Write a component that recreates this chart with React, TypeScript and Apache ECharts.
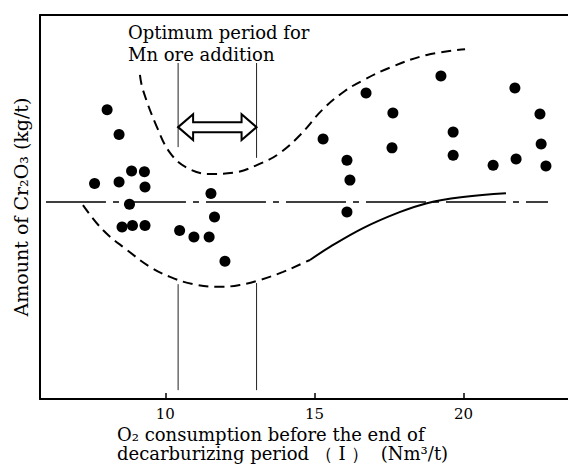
import React, { useEffect, useRef } from "react";
import * as echarts from "echarts";

// x tick labels
const xTicks = [10, 15, 20];

// scatter points [O2 consumption, Cr2O3 amount (relative)]
const points: [number, number][] = [
  [8.05, 75.3], [8.45, 68.9], [8.87, 59.4], [9.3, 59.2], [7.63, 56.1],
  [8.45, 56.5], [9.32, 55.2], [11.53, 53.5], [8.8, 50.7], [11.65, 47.4],
  [8.55, 44.8], [8.9, 45.2], [9.32, 45.2], [10.48, 43.9], [10.96, 42.2],
  [11.47, 42.2], [12.0, 35.9],
  [15.29, 67.7], [16.73, 79.7], [16.09, 62.2], [16.19, 57.0], [17.63, 74.5],
  [17.6, 65.4], [19.24, 84.1], [19.65, 69.5], [19.65, 63.5], [20.99, 60.9],
  [21.72, 81.0], [21.76, 62.5], [22.56, 74.2], [22.6, 66.4], [22.76, 60.7],
  [16.09, 48.7],
];

// upper dashed envelope
const upperCurve: [number, number][] = [
  [9.15, 84.4], [9.25, 80.5], [9.72, 70.8], [10.16, 64.1], [10.73, 60.2],
  [11.5, 58.6], [12.27, 58.9], [13.24, 61.5], [13.85, 64.1], [14.52, 68.75],
  [15.29, 75.5], [16.02, 80.2], [16.63, 83.0], [17.53, 86.3], [18.77, 89.6],
  [20.05, 91.1],
];

// lower envelope, dashed part
const lowerDashed: [number, number][] = [
  [7.24, 50.5], [7.91, 44.0], [8.72, 38.8], [9.49, 34.4], [10.16, 31.8],
  [10.93, 29.9], [11.83, 29.2], [12.5, 29.7], [13.18, 31.0], [13.95, 33.1],
  [14.62, 35.4], [14.85, 36.2],
];

// lower envelope, solid part
const lowerSolid: [number, number][] = [
  [14.85, 36.2], [15.52, 39.6], [16.63, 44.5], [17.77, 48.4], [18.77, 51.0],
  [19.98, 52.6], [21.42, 53.6],
];

// reference horizontal line
const refLine: [number, number][] = [[6.0, 51.3], [22.83, 51.3]];

// optimum period bounds
const periodStart = 10.43;
const periodEnd = 13.06;
const verticalSegments: [number, number, number][] = [
  [periodStart, 65.6, 87.5],
  [periodEnd, 62.8, 87.5],
  [periodStart, 2.3, 29.9],
  [periodEnd, 2.3, 30.2],
];
const arrowY = 70.8;

const FONT = '"DejaVu Serif", "Liberation Serif", serif';

export default function App() {
  const ref = useRef<HTMLDivElement>(null);
  useEffect(() => {
    if (!ref.current) return;
    const chart = echarts.init(ref.current, undefined, { renderer: "svg" });
    const vSeries = verticalSegments.map(([x, y0, y1]) => ({
      type: "line",
      data: [[x, y0], [x, y1]],
      showSymbol: false,
      symbol: "none",
      lineStyle: { color: "#222", width: 1 },
      silent: true,
      z: 2,
    }));
    chart.setOption({
      animation: false,
      backgroundColor: "#fff",
      grid: { left: 40, right: 0, top: 15, bottom: 74 },
      xAxis: [
        {
          type: "value",
          min: 5.8,
          max: 23.5,
          axisLine: { show: true, lineStyle: { color: "#000", width: 2 } },
          axisTick: {
            show: true,
            inside: true,
            length: 6,
            customValues: xTicks,
            lineStyle: { color: "#000", width: 1.5 },
          },
          axisLabel: {
            customValues: xTicks,
            margin: 7,
            color: "#000",
            fontFamily: FONT,
            fontSize: 15,
          },
          splitLine: { show: false },
        },
        {
          type: "value",
          position: "top",
          min: 5.8,
          max: 23.5,
          axisLine: { show: true, lineStyle: { color: "#000", width: 2 } },
          axisTick: { show: false },
          axisLabel: { show: false },
          splitLine: { show: false },
        },
      ],
      yAxis: {
        type: "value",
        min: 0,
        max: 100,
        name: "Amount of Cr₂O₃ (kg/t)",
        nameLocation: "middle",
        nameGap: 10,
        nameTextStyle: { color: "#000", fontFamily: FONT, fontSize: 19 },
        axisLine: { show: true, lineStyle: { color: "#000", width: 2 } },
        axisTick: { show: false },
        axisLabel: { show: false },
        splitLine: { show: false },
      },
      graphic: [
        {
          type: "text",
          left: 128,
          top: 21,
          style: {
            text: "Optimum period for\nMn ore addition",
            fontFamily: FONT,
            fontSize: 18,
            lineHeight: 22,
            fill: "#000",
          },
        },
        {
          type: "text",
          left: 117,
          top: 425,
          style: {
            text: "O₂ consumption before the end of\ndecarburizing period （ I ）  (Nm³/t)",
            fontFamily: FONT,
            fontSize: 18,
            lineHeight: 19,
            fill: "#000",
          },
        },
      ],
      series: [
        {
          type: "line",
          data: refLine,
          showSymbol: false,
          symbol: "none",
          lineStyle: { color: "#000", width: 1.5, type: [60, 7, 6, 7] },
          z: 2,
        },
        {
          type: "line",
          data: upperCurve,
          smooth: 0.4,
          showSymbol: false,
          symbol: "none",
          lineStyle: { color: "#000", width: 2, type: [10, 6] },
          z: 2,
        },
        {
          type: "line",
          data: lowerDashed,
          smooth: 0.4,
          showSymbol: false,
          symbol: "none",
          lineStyle: { color: "#000", width: 2, type: [10, 6] },
          z: 2,
        },
        {
          type: "line",
          data: lowerSolid,
          smooth: 0.4,
          showSymbol: false,
          symbol: "none",
          lineStyle: { color: "#000", width: 2 },
          z: 2,
        },
        ...vSeries,
        {
          type: "custom",
          data: [[periodStart, periodEnd, arrowY]],
          encode: { x: [0, 1], y: 2 },
          renderItem: (params: any, api: any) => {
            const p1 = api.coord([api.value(0), api.value(2)]);
            const p2 = api.coord([api.value(1), api.value(2)]);
            const x1 = p1[0];
            const x2 = p2[0];
            const y = p1[1];
            const hl = 15;
            const hh = 13;
            const sh = 5;
            return {
              type: "polygon",
              shape: {
                points: [
                  [x1, y],
                  [x1 + hl, y - hh],
                  [x1 + hl, y - sh],
                  [x2 - hl, y - sh],
                  [x2 - hl, y - hh],
                  [x2, y],
                  [x2 - hl, y + hh],
                  [x2 - hl, y + sh],
                  [x1 + hl, y + sh],
                  [x1 + hl, y + hh],
                ],
              },
              style: { fill: "#fff", stroke: "#000", lineWidth: 2 },
            };
          },
          z: 3,
        },
        {
          type: "scatter",
          data: points,
          symbol: "circle",
          symbolSize: 11,
          itemStyle: { color: "#000", opacity: 1 },
          z: 4,
        },
      ],
    });
    return () => chart.dispose();
  }, []);
  return (
    <div
      ref={ref}
      style={{ position: "fixed", left: 0, top: 0, width: 568, height: 473, background: "#fff" }}
    />
  );
}
